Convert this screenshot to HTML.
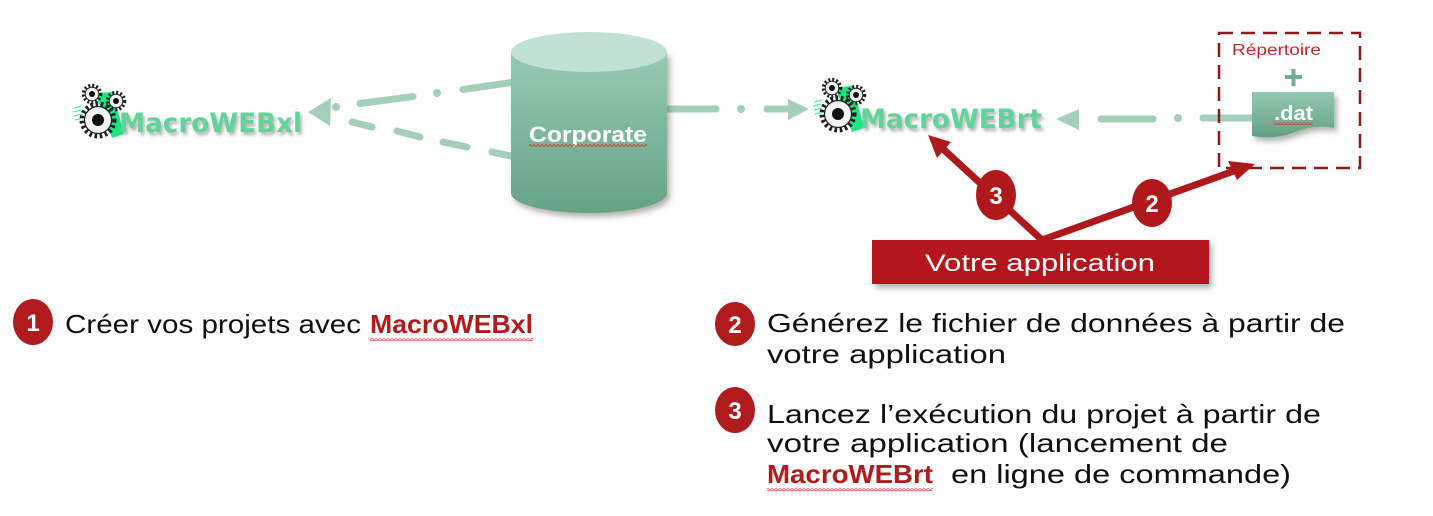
<!DOCTYPE html>
<html>
<head>
<meta charset="utf-8">
<style>
html,body{margin:0;padding:0;background:#ffffff;}
svg{display:block;}
</style>
</head>
<body>
<svg width="1433" height="516" viewBox="0 0 1433 516" xmlns="http://www.w3.org/2000/svg">
  <defs>
    <linearGradient id="cyl" x1="0" y1="0" x2="0" y2="1">
      <stop offset="0" stop-color="#96cbb3"/>
      <stop offset="1" stop-color="#67a286"/>
    </linearGradient>
    <linearGradient id="datg" x1="0" y1="0" x2="0" y2="1">
      <stop offset="0" stop-color="#95c9b1"/>
      <stop offset="1" stop-color="#62a083"/>
    </linearGradient>
    <filter id="sh" x="-20%" y="-20%" width="150%" height="160%">
      <feDropShadow dx="3" dy="4" stdDeviation="3" flood-color="#555" flood-opacity="0.45"/>
    </filter>
    <filter id="tsh" x="-10%" y="-30%" width="130%" height="180%">
      <feDropShadow dx="2" dy="3" stdDeviation="1.5" flood-color="#777" flood-opacity="0.55"/>
    </filter>
    <pattern id="wave" width="4" height="3" patternUnits="userSpaceOnUse">
      <path d="M0,2.5 L2,0.5 L4,2.5" stroke="#e03a3a" fill="none" stroke-width="0.9"/>
    </pattern>
    <g id="gbig">
      <circle r="16" fill="none" stroke="#222" stroke-width="5" stroke-dasharray="2.6 2.6"/>
      <circle r="13.5" fill="#f2f2f2" stroke="#222" stroke-width="1.2"/>
      <circle r="6" fill="#111"/>
    </g>
    <g id="gsmall">
      <circle r="8.5" fill="none" stroke="#222" stroke-width="3.5" stroke-dasharray="2 2"/>
      <circle r="6.8" fill="#f0f0f0" stroke="#222" stroke-width="1"/>
      <circle r="3" fill="#111"/>
    </g>
    <g id="gears">
      <polygon points="95,93 113,92 124,134 112,138" fill="#1de57f"/>
      <g stroke="#5fe8a0" stroke-width="1.2">
        <line x1="74" y1="108" x2="82" y2="106"/>
        <line x1="73" y1="112" x2="81" y2="110"/>
        <line x1="74" y1="116" x2="82" y2="114"/>
        <line x1="75" y1="120" x2="83" y2="118"/>
      </g>
      <use href="#gsmall" x="92" y="94"/>
      <use href="#gsmall" x="116" y="101"/>
      <use href="#gbig" x="98" y="120"/>
    </g>
  </defs>

  <!-- Gears logo xl -->
  <use href="#gears"/>
  <text x="119" y="132" font-family="'DejaVu Sans', 'Liberation Sans', sans-serif" font-weight="bold" font-size="27" fill="#62d39b" textLength="183" lengthAdjust="spacingAndGlyphs" filter="url(#tsh)">MacroWEBxl</text>

  <!-- Gears logo rt -->
  <use href="#gears" x="740" y="-6"/>
  <text x="860" y="128" font-family="'DejaVu Sans', 'Liberation Sans', sans-serif" font-weight="bold" font-size="27" fill="#62d39b" textLength="182" lengthAdjust="spacingAndGlyphs" filter="url(#tsh)">MacroWEBrt</text>

  <!-- green dashed connectors -->
  <g stroke="#a5cfba" stroke-width="7" stroke-linecap="round" fill="none">
    <line x1="515" y1="82" x2="463" y2="89.5"/>
    <line x1="413" y1="96.5" x2="360" y2="103.5"/>
    <line x1="352" y1="122" x2="372" y2="127"/>
    <line x1="397" y1="131" x2="420" y2="137"/>
    <line x1="443" y1="142" x2="467" y2="147"/>
    <line x1="492" y1="152" x2="515" y2="157"/>
    <line x1="660" y1="109" x2="716" y2="109"/>
    <line x1="767" y1="109" x2="790" y2="109"/>
    <line x1="1101" y1="119" x2="1153" y2="119"/>
    <line x1="1203" y1="118" x2="1258" y2="118"/>
  </g>
  <g fill="#a5cfba">
    <circle cx="437" cy="93" r="4"/>
    <circle cx="336" cy="107" r="4"/>
    <circle cx="741" cy="109" r="4"/>
    <circle cx="1178" cy="118" r="4"/>
    <polygon points="308,112 331,98 330,126"/>
    <polygon points="809,109 788,99 788,120"/>
    <polygon points="1056,119 1079,109 1079,130"/>
  </g>

  <!-- Cylinder -->
  <g filter="url(#sh)">
    <path d="M511,52 V193 A78,20 0 0 0 667,193 V52 Z" fill="url(#cyl)"/>
  </g>
  <ellipse cx="589" cy="52" rx="78" ry="20" fill="#c1e1d4"/>
  <text x="529" y="142" font-family="'Liberation Sans', sans-serif" font-weight="bold" font-size="22" fill="#ffffff" textLength="118" lengthAdjust="spacingAndGlyphs">Corporate</text>
  <rect x="529" y="144" width="118" height="3" fill="url(#wave)"/>

  <!-- Repertoire dashed box -->
  <text x="1232" y="55" font-family="'Liberation Sans', sans-serif" font-size="16" fill="#c0282d" textLength="89" lengthAdjust="spacingAndGlyphs">Répertoire</text>
  <rect x="1285" y="75" width="17" height="4" fill="#6fae8f"/>
  <rect x="1291.5" y="69" width="4" height="17" fill="#6fae8f"/>
  <g filter="url(#sh)">
    <path d="M1252,92 H1334 V128 Q1315,124 1295,132 Q1275,140 1252,136 Z" fill="url(#datg)"/>
  </g>
  <text x="1274" y="120" font-family="'Liberation Sans', sans-serif" font-weight="bold" font-size="20" fill="#ffffff" textLength="39" lengthAdjust="spacingAndGlyphs">.dat</text>
  <rect x="1274" y="122" width="39" height="3" fill="url(#wave)"/>
  <rect x="1219" y="33" width="141" height="135" fill="none" stroke="#8b1a1a" stroke-width="2.5" stroke-dasharray="14 8"/>

  <!-- Red arrows -->
  <g stroke="#b0191b" stroke-width="7" stroke-linecap="butt" fill="none">
    <line x1="1042" y1="240" x2="942" y2="148"/>
    <line x1="1042" y1="240" x2="1234" y2="171"/>
  </g>
  <g fill="#b0191b">
    <polygon points="928,135 951,142 937,158"/>
    <polygon points="1255,164 1237,180 1228,161"/>
    <ellipse cx="996" cy="195" rx="20" ry="25"/>
    <ellipse cx="1152" cy="203" rx="20" ry="24"/>
  </g>
  <text x="996" y="204" text-anchor="middle" font-family="'Liberation Sans', sans-serif" font-weight="bold" font-size="24" fill="#ffffff">3</text>
  <text x="1152" y="212" text-anchor="middle" font-family="'Liberation Sans', sans-serif" font-weight="bold" font-size="24" fill="#ffffff">2</text>

  <!-- Votre application box -->
  <g filter="url(#sh)">
    <rect x="872" y="240" width="337" height="44" fill="#b3191b"/>
  </g>
  <text x="925" y="271" font-family="'Liberation Sans', sans-serif" font-size="24" fill="#ffffff" textLength="230" lengthAdjust="spacingAndGlyphs">Votre application</text>

  <!-- Bottom left item -->
  <ellipse cx="33" cy="322" rx="20" ry="23" fill="#b01c1e"/>
  <text x="33" y="331" text-anchor="middle" font-family="'Liberation Sans', sans-serif" font-weight="bold" font-size="24" fill="#ffffff">1</text>
  <text x="65" y="333" font-family="'Liberation Sans', sans-serif" font-size="26" fill="#111" textLength="296" lengthAdjust="spacingAndGlyphs">Créer vos projets avec</text>
  <text x="370" y="333" font-family="'Liberation Sans', sans-serif" font-weight="bold" font-size="26" fill="#b01c1e" textLength="163" lengthAdjust="spacingAndGlyphs">MacroWEBxl</text>
  <rect x="370" y="338" width="163" height="3" fill="url(#wave)"/>

  <!-- Bottom right items -->
  <ellipse cx="735" cy="324" rx="20" ry="22" fill="#b01c1e"/>
  <text x="735" y="333" text-anchor="middle" font-family="'Liberation Sans', sans-serif" font-weight="bold" font-size="24" fill="#ffffff">2</text>
  <text x="767" y="332" font-family="'Liberation Sans', sans-serif" font-size="26" fill="#111" textLength="578" lengthAdjust="spacingAndGlyphs">Générez le fichier de données à partir de</text>
  <text x="767" y="363" font-family="'Liberation Sans', sans-serif" font-size="26" fill="#111" textLength="239" lengthAdjust="spacingAndGlyphs">votre application</text>

  <ellipse cx="735" cy="410" rx="20" ry="23" fill="#b01c1e"/>
  <text x="735" y="419" text-anchor="middle" font-family="'Liberation Sans', sans-serif" font-weight="bold" font-size="24" fill="#ffffff">3</text>
  <text x="767" y="423" font-family="'Liberation Sans', sans-serif" font-size="26" fill="#111" textLength="554" lengthAdjust="spacingAndGlyphs">Lancez l’exécution du projet à partir de</text>
  <text x="767" y="452" font-family="'Liberation Sans', sans-serif" font-size="26" fill="#111" textLength="461" lengthAdjust="spacingAndGlyphs">votre application (lancement de</text>
  <text x="767" y="483" font-family="'Liberation Sans', sans-serif" font-weight="bold" font-size="26" fill="#b01c1e" textLength="166" lengthAdjust="spacingAndGlyphs">MacroWEBrt</text>
  <rect x="767" y="488" width="166" height="3" fill="url(#wave)"/>
  <text x="951" y="483" font-family="'Liberation Sans', sans-serif" font-size="26" fill="#111" textLength="340" lengthAdjust="spacingAndGlyphs">en ligne de commande)</text>
</svg>
</body>
</html>
